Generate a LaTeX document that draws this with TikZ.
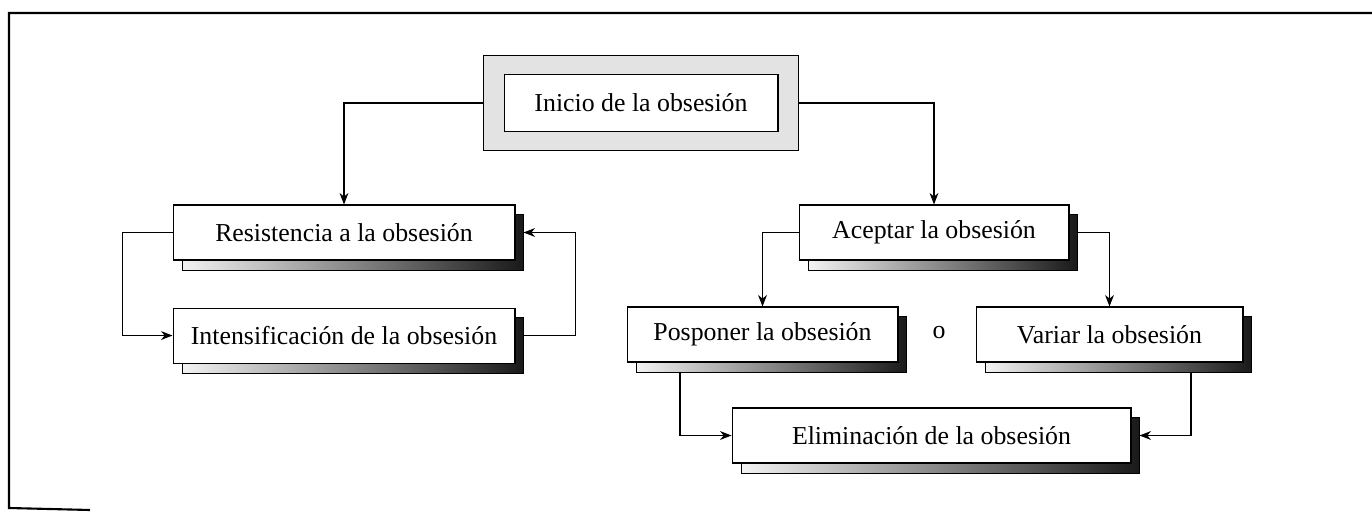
\documentclass[tikz,border=0pt]{standalone}
\usepackage{fontspec}
\setmainfont{Liberation Serif}
\usetikzlibrary{shapes, arrows.meta, positioning, fit, calc, backgrounds}

\begin{document}
\begin{tikzpicture}[x=0.02cm, y=-0.02cm,
        block/.style={rectangle, draw, fill=white, minimum height=1.1cm, font=\fontsize{14.7}{17}\selectfont, line width=0.6pt},
        shade/.style={draw, line width=0.5pt, left color=gray!10, right color=black!90},
        frame/.style={rectangle, draw, fill=gray!22, line width=0.8pt},
        line/.style={draw, -{Stealth[length=6.5pt, width=5pt, inset=2pt]}, line width=0.7pt}]

        \useasboundingbox (0,0) rectangle (1372,513);

        \node [block, minimum width=5.48cm, minimum height=1.14cm] (inicio) at (641,103) {Inicio de la obsesión};
        \node [block, minimum width=6.84cm] (resist) at (344,232.5) {Resistencia a la obsesión};
        \node [block, minimum width=6.84cm, below=0.94cm of resist] (intens) {Intensificación de la obsesión};
        \node [block, minimum width=5.4cm] (aceptar) at (934,232.5) {Aceptar la obsesión};
        \node [block, minimum width=5.42cm] (posponer) at (762.5,334.5) {Posponer la obsesión};
        \node [block, minimum width=5.34cm] (variar) at (1109.5,334.5) {Variar la obsesión};
        \node [block, minimum width=7.98cm] (elim) at (931.5,435.5) {Eliminación de la obsesión};
        \node [font=\fontsize{14.7}{17}\selectfont] (o) at (939,333) {o};

        % Frame and shadows
        \begin{scope}[on background layer]
            \node [frame, fit=(inicio), inner xsep=0.4cm, inner ysep=0.37cm] (inicioframe) {};
            \foreach \n in {resist, intens, aceptar, posponer, variar, elim}
                \draw [shade] ($(\n.south west)+(0.2cm,-0.2cm)$) rectangle ($(\n.north east)+(0.16cm,-0.2cm)$);
        \end{scope}

        % Paths
        \path [line] (inicioframe.west) -| (resist.north);
        \path [line] (inicioframe.east) -| (aceptar.north);
        \path [line] (resist.west) -- ++(-1cm,0) |- (intens.west);
        \path [line] ([xshift=0.16cm]intens.east) -- ++(1.04cm,0) |- ([xshift=0.16cm]resist.east);
        \path [line] (aceptar.west) -| (posponer.north);
        \path [line] ([xshift=0.16cm]aceptar.east) -| (variar.north);
        \path [line] ([xshift=-1.65cm, yshift=-0.2cm]posponer.south) |- (elim.west);
        \path [line] ([xshift=1.63cm, yshift=-0.2cm]variar.south) |- ([xshift=0.16cm]elim.east);

        % Outer border
        \draw [line width=1.2pt] (1372,13) -- (9,13) -- (9,508) -- (90,510);

    \end{tikzpicture}
\end{document}
